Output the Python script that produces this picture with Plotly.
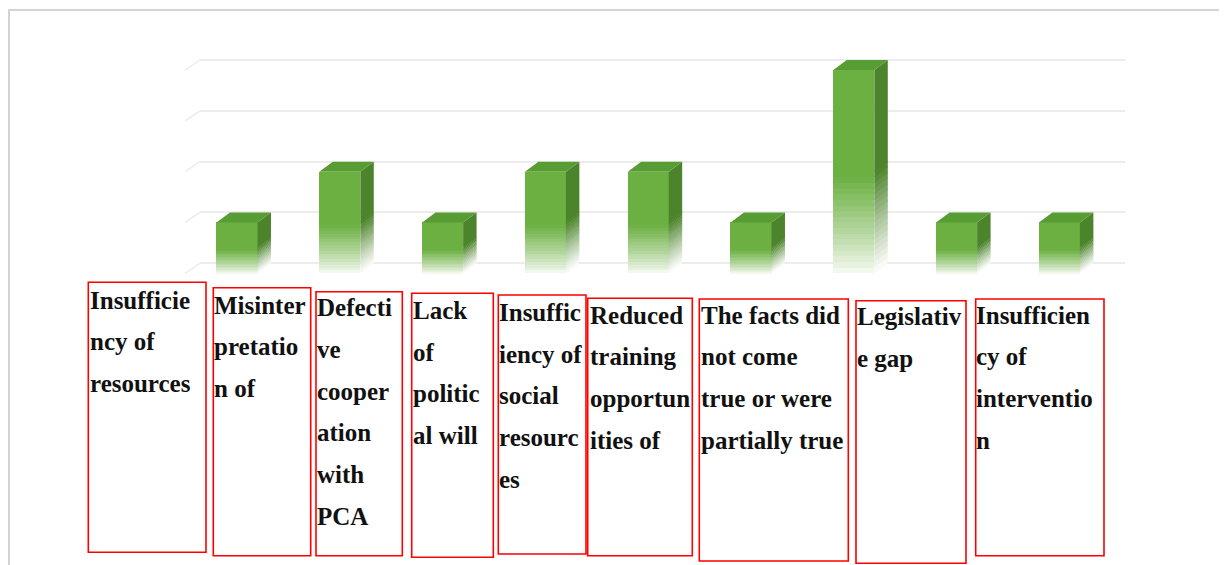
import plotly.graph_objects as go

# ---------------- data ----------------
categories = [
    "Insufficiency of resources",
    "Misinterpretation of",
    "Defective cooperation with PCA",
    "Lack of political will",
    "Insufficiency of social resources",
    "Reduced training opportunities of",
    "The facts did not come true or were partially true",
    "Legislative gap",
    "Insufficiency of intervention",
]
values = [1, 2, 1, 2, 2, 1, 4, 1, 1]
label_lines = [
    ["Insufficie", "ncy of", "resources"],
    ["Misinter", "pretatio", "n of"],
    ["Defecti", "ve", "cooper", "ation", "with", "PCA"],
    ["Lack", "of", "politic", "al will"],
    ["Insuffic", "iency of", "social", "resourc", "es"],
    ["Reduced", "training", "opportun", "ities of"],
    ["The facts did", "not come", "true or were", "partially true"],
    ["Legislativ", "e gap"],
    ["Insufficien", "cy of", "interventio", "n"],
]
y_ticks = [0, 1, 2, 3, 4]

# ---------------- layout geometry (pixels, page coordinates) ----------------
OFF = 8  # default page body margin
W, H = 1227 - OFF, 565 - OFF
L, R, T, B = 200, 1125, 50, 280


def px(x):
    return (x - L) / (R - L)


def py(y):
    return (B - y) / (B - T)


FRONT = (108, 176, 66)
TOP = (88, 156, 52)
SIDE = (76, 132, 43)
WHITE = (255, 255, 255)


def mix(c1, c2, t):
    return "rgb(%d,%d,%d)" % tuple(round(a + (b - a) * t) for a, b in zip(c1, c2))


x_pos = list(range(len(values)))
bar_w = 0.399
dx = 0.131
dy = 0.197
N = 18
fade = 0.5

fig = go.Figure()

# front faces: solid upper part
fig.add_bar(x=x_pos, y=[v * (1 - fade) for v in values],
            base=[-dy + v * fade for v in values], width=bar_w,
            marker=dict(color=mix(FRONT, FRONT, 0), line=dict(width=0)),
            hoverinfo="skip", showlegend=False)
# front faces: fading lower part
for k in range(N):
    t = (k + 0.5) / N
    col = mix(WHITE, FRONT, min(1, 0.04 + t ** 0.85))
    fig.add_bar(x=x_pos, y=[v * fade / N * 1.15 for v in values],
                base=[-dy + v * fade * k / N for v in values], width=bar_w,
                marker=dict(color=col, line=dict(width=0)),
                hoverinfo="skip", showlegend=False)


def side_poly(ya_list, yb_list):
    xs, ys = [], []
    for c, ya, yb in zip(x_pos, ya_list, yb_list):
        x0 = c + bar_w / 2
        xs += [x0, x0 + dx, x0 + dx, x0, x0, None]
        ys += [ya, ya + dy, yb + dy, yb, ya, None]
    return xs, ys


# side faces
xs, ys = side_poly([-dy + v * fade for v in values], [v - dy for v in values])
fig.add_scatter(x=xs, y=ys, mode="lines", fill="toself", fillcolor=mix(SIDE, SIDE, 0),
                line=dict(width=0), hoverinfo="skip", showlegend=False)
for k in range(N):
    t = (k + 0.5) / N
    col = mix(WHITE, SIDE, min(1, 0.02 + t ** 1.1))
    xs, ys = side_poly([-dy + v * fade * k / N for v in values],
                       [-dy + v * fade * (k + 1.15) / N for v in values])
    fig.add_scatter(x=xs, y=ys, mode="lines", fill="toself", fillcolor=col,
                    line=dict(width=0), hoverinfo="skip", showlegend=False)

# top faces
xs, ys = [], []
for c, v in zip(x_pos, values):
    xl, xr = c - bar_w / 2, c + bar_w / 2
    xs += [xl, xl + dx, xr + dx, xr, xl, None]
    ys += [v - dy, v, v, v - dy, v - dy, None]
fig.add_scatter(x=xs, y=ys, mode="lines", fill="toself", fillcolor=mix(TOP, TOP, 0),
                line=dict(width=0), hoverinfo="skip", showlegend=False)

shapes = []
# diagonal gridline stubs on the left wall
for k in y_ticks:
    shapes.append(dict(type="line", xref="paper", yref="y", x0=px(185), x1=px(200),
                       y0=k - dy, y1=k, line=dict(color="#ececec", width=1.5), layer="below"))

# outer frame
shapes.append(dict(type="rect", xref="paper", yref="paper", x0=px(9), x1=px(1240),
                   y0=py(580), y1=py(10), line=dict(color="#d4d4d4", width=2)))

# red label boxes
boxes = [
    (88.3, 282.3, 206, 552.3),
    (213.3, 287.7, 310.7, 555.7),
    (316, 291.7, 402.3, 555.7),
    (411.7, 293.3, 493.3, 557.3),
    (498.3, 295, 586, 554),
    (587.7, 298.3, 692.3, 555.7),
    (699.3, 299, 848.3, 561),
    (856, 300.7, 966, 563.3),
    (975.7, 299, 1104, 555.7),
]
for (x0, y0, x1, y1) in boxes:
    shapes.append(dict(type="rect", xref="paper", yref="paper", x0=px(x0), x1=px(x1),
                       y0=py(y1), y1=py(y0), line=dict(color="#ff0000", width=1.6)))

# label text
text_left = [91, 215.7, 318.3, 414, 500.7, 591, 702.7, 858.3, 977.7]
first_center = [300, 305, 307.8, 310.3, 312.5, 315, 315, 316.7, 315]
line_gap = 41.7
annotations = []
for lines, xl, yc in zip(label_lines, text_left, first_center):
    for i, ln in enumerate(lines):
        annotations.append(dict(
            x=px(xl - 2.5), y=py(yc + i * line_gap), xref="paper", yref="paper",
            xanchor="left", yanchor="middle", showarrow=False, borderpad=0,
            text="<b>%s</b>" % ln,
            font=dict(family="Liberation Serif", size=25, color="#111111")))

fig.update_layout(
    width=W, height=H,
    margin=dict(l=L - OFF, r=(W + OFF) - R, t=T - OFF, b=(H + OFF) - B),
    paper_bgcolor="white", plot_bgcolor="white",
    barmode="overlay", bargap=0,
    shapes=shapes, annotations=annotations,
    xaxis=dict(range=[(L - 237) / 102.8, (R - 237) / 102.8], showgrid=False,
               zeroline=False, showticklabels=False, ticks=""),
    yaxis=dict(range=[-(B - 263.3) / 50.83, 4 + (60 - T) / 50.83], tickvals=y_ticks,
               showgrid=True, gridcolor="#ececec", gridwidth=2, zeroline=False,
               showticklabels=False, ticks=""),
)

fig.write_html("out.html")
